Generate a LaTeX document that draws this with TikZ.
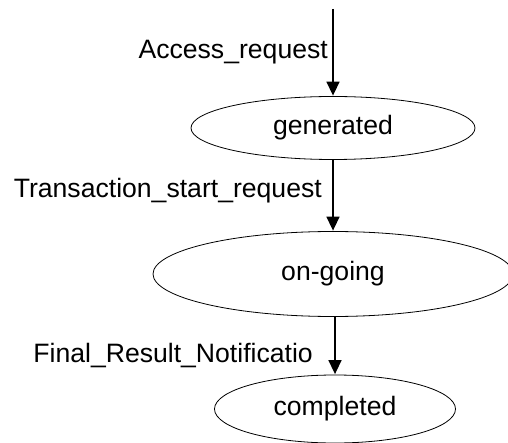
\documentclass[tikz,border=0pt]{standalone}
\usepackage{fontspec}
\setmainfont{Liberation Sans}
\usetikzlibrary{shapes.geometric,arrows.meta}
\begin{document}
\begin{tikzpicture}[x=1pt,y=-1pt,
  state/.style={draw,ellipse,inner sep=0pt,line width=0.8pt,font=\fontsize{26.6}{30}\selectfont},
  lbl/.style={inner sep=0pt,anchor=base east,font=\fontsize{26.6}{30}\selectfont},
  conn/.style={line width=1.5pt,-{Triangle[length=14pt,width=13pt]},shorten >=0.5pt}]
\useasboundingbox (0,0) rectangle (508,443);
\coordinate (start) at (333,9);
\node[state,minimum width=284pt,minimum height=63pt] (gen) at (333,128) {generated};
\node[state,minimum width=360pt,minimum height=85pt] (ong) at (333,274) {on-going};
\node[state,minimum width=241pt,minimum height=68pt] (comp) at (335,409) {completed};
\draw[conn] (start) -- (gen.north);
\draw[conn] (gen.south) -- (ong.north);
\draw[conn] (ong.south -| comp.north) -- (comp.north);
\node[lbl] (l1) at (328,59) {Access\_request};
\node[lbl] (l2) at (322,198) {Transaction\_start\_request};
\node[lbl] (l3) at (313,362) {Final\_Result\_Notificatio};
\end{tikzpicture}
\end{document}
